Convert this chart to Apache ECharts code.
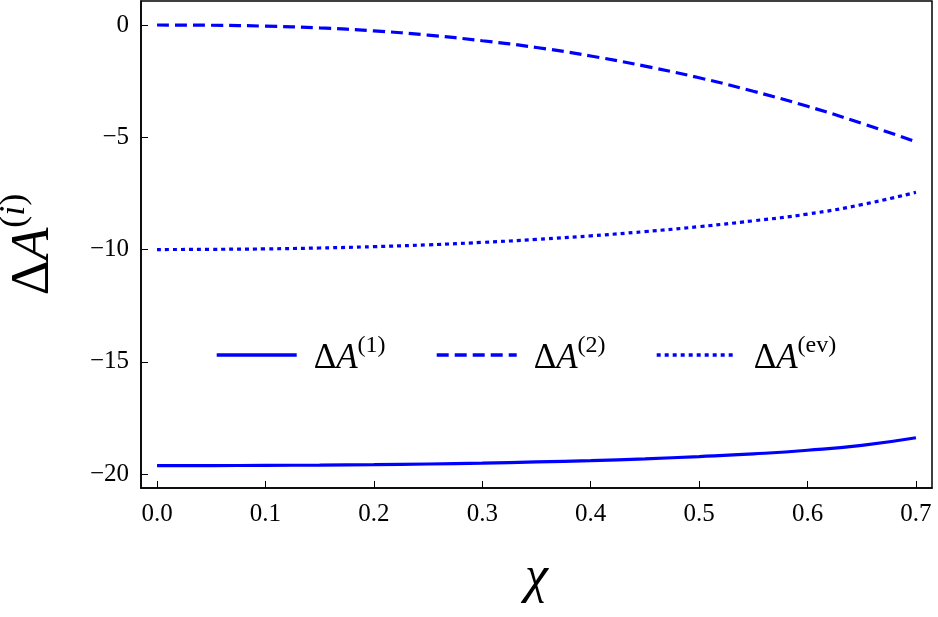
<!DOCTYPE html>
<html>
<head>
<meta charset="utf-8">
<script src="https://cdn.jsdelivr.net/npm/echarts@6/dist/echarts.min.js"></script>
<style>
  html, body { margin: 0; padding: 0; background: #fff; }
  #main { width: 938px; height: 617px; }
</style>
</head>
<body>
<div id="main"></div>
<script>
const chi = [0, 0.05, 0.1, 0.15, 0.2, 0.25, 0.3, 0.35, 0.4, 0.45, 0.5, 0.55, 0.6, 0.65, 0.7]
const dA1 = [-19.62, -19.62, -19.61, -19.6, -19.58, -19.55, -19.51, -19.46, -19.4, -19.32, -19.22, -19.1, -18.94, -18.72, -18.38]
const dA2 = [0, -0.01, -0.05, -0.13, -0.26, -0.45, -0.7, -1.0, -1.38, -1.83, -2.35, -2.95, -3.62, -4.38, -5.2]
const dAev = [-10, -9.99, -9.97, -9.93, -9.87, -9.79, -9.68, -9.55, -9.39, -9.2, -8.98, -8.72, -8.42, -8.0, -7.45]
const xTicks = [0, 0.1, 0.2, 0.3, 0.4, 0.5, 0.6, 0.7]
const yTicks = [0, -5, -10, -15, -20]
const names = ['ΔA1', 'ΔA2', 'ΔAev']
const sups = ['(1)', '(2)', '(ev)']

const serif = 'Liberation Serif'
const pair = (xs, ys) => xs.map((x, i) => [x, ys[i]])

const chart = echarts.init(document.querySelector('#main'))

const labelRich = {
    d: { fontFamily: serif, fontSize: 35, color: '#000', verticalAlign: 'bottom', lineHeight: 42 },
    a: { fontFamily: serif, fontSize: 35, fontStyle: 'italic', color: '#000', verticalAlign: 'bottom', lineHeight: 42 },
    s: { fontFamily: serif, fontSize: 24, color: '#000', verticalAlign: 'top', lineHeight: 42, padding: [0, 0, 16, 0] }
}

// one legend per entry so each sits where it does in the figure
const legendLeft = [210, 430, 650]
const legends = names.map((n, i) => ({
    left: legendLeft[i], top: 329,
    itemWidth: 80, itemHeight: 14,
    data: [n],
    formatter: () => '{d|Δ}{a|A}{s|' + sups[i] + '}',
    itemStyle: { opacity: 0 },
    lineStyle: { width: 3.4 },
    textStyle: { rich: labelRich, padding: [0, 0, 0, 12] }
}))

const lineSeries = (name, data, type) => ({
    name, type: 'line', data,
    smooth: true, showSymbol: false, symbol: 'none',
    lineStyle: { color: '#0000ff', width: 3.2, type },
    itemStyle: { color: '#0000ff' }
})

const option = {
    animation: false,
    backgroundColor: '#fff',
    grid: {
        left: 141, right: 6, top: 1, bottom: 129,
        outerBoundsMode: 'none',
        show: true, borderColor: '#000', borderWidth: 1.5
    },
    legend: legends,
    xAxis: {
        type: 'value',
        min: -0.0148, max: 0.7148,
        name: 'χ',
        nameLocation: 'middle',
        nameGap: 64,
        nameTextStyle: { fontFamily: serif, fontSize: 52, fontStyle: 'italic', color: '#000' },
        axisLine: { onZero: false, lineStyle: { color: '#000', width: 1.5 } },
        axisTick: { inside: true, length: 7, customValues: xTicks, lineStyle: { color: '#000' } },
        axisLabel: {
            customValues: xTicks,
            formatter: v => v.toFixed(1),
            fontFamily: serif, fontSize: 25, color: '#000', margin: 14
        },
        splitLine: { show: false }
    },
    yAxis: {
        type: 'value',
        min: -20.62, max: 1.07,
        name: '{d|Δ}{a|A}{s|(}{i|i}{s|)}',
        nameLocation: 'middle',
        nameRotate: 90,
        nameGap: 80,
        nameTextStyle: {
            rich: {
                d: { fontFamily: serif, fontSize: 54, color: '#000', verticalAlign: 'bottom', lineHeight: 64 },
                a: { fontFamily: serif, fontSize: 54, fontStyle: 'italic', color: '#000', verticalAlign: 'bottom', lineHeight: 64 },
                s: { fontFamily: serif, fontSize: 36, color: '#000', verticalAlign: 'top', lineHeight: 64, padding: [0, 0, 22, 0] },
                i: { fontFamily: serif, fontSize: 36, fontStyle: 'italic', color: '#000', verticalAlign: 'top', lineHeight: 64, padding: [0, 0, 22, 0] }
            }
        },
        axisLine: { onZero: false, lineStyle: { color: '#000', width: 1.5 } },
        axisTick: { inside: true, length: 7, customValues: yTicks, lineStyle: { color: '#000' } },
        axisLabel: {
            customValues: yTicks,
            formatter: v => (v < 0 ? '−' + Math.abs(v) : String(v)),
            fontFamily: serif, fontSize: 25, color: '#000', margin: 12
        },
        splitLine: { show: false }
    },
    series: [
        lineSeries(names[0], pair(chi, dA1), 'solid'),
        lineSeries(names[1], pair(chi, dA2), [12, 6]),
        lineSeries(names[2], pair(chi, dAev), [4, 4])
    ]
}

chart.setOption(option)
</script>
</body>
</html>
